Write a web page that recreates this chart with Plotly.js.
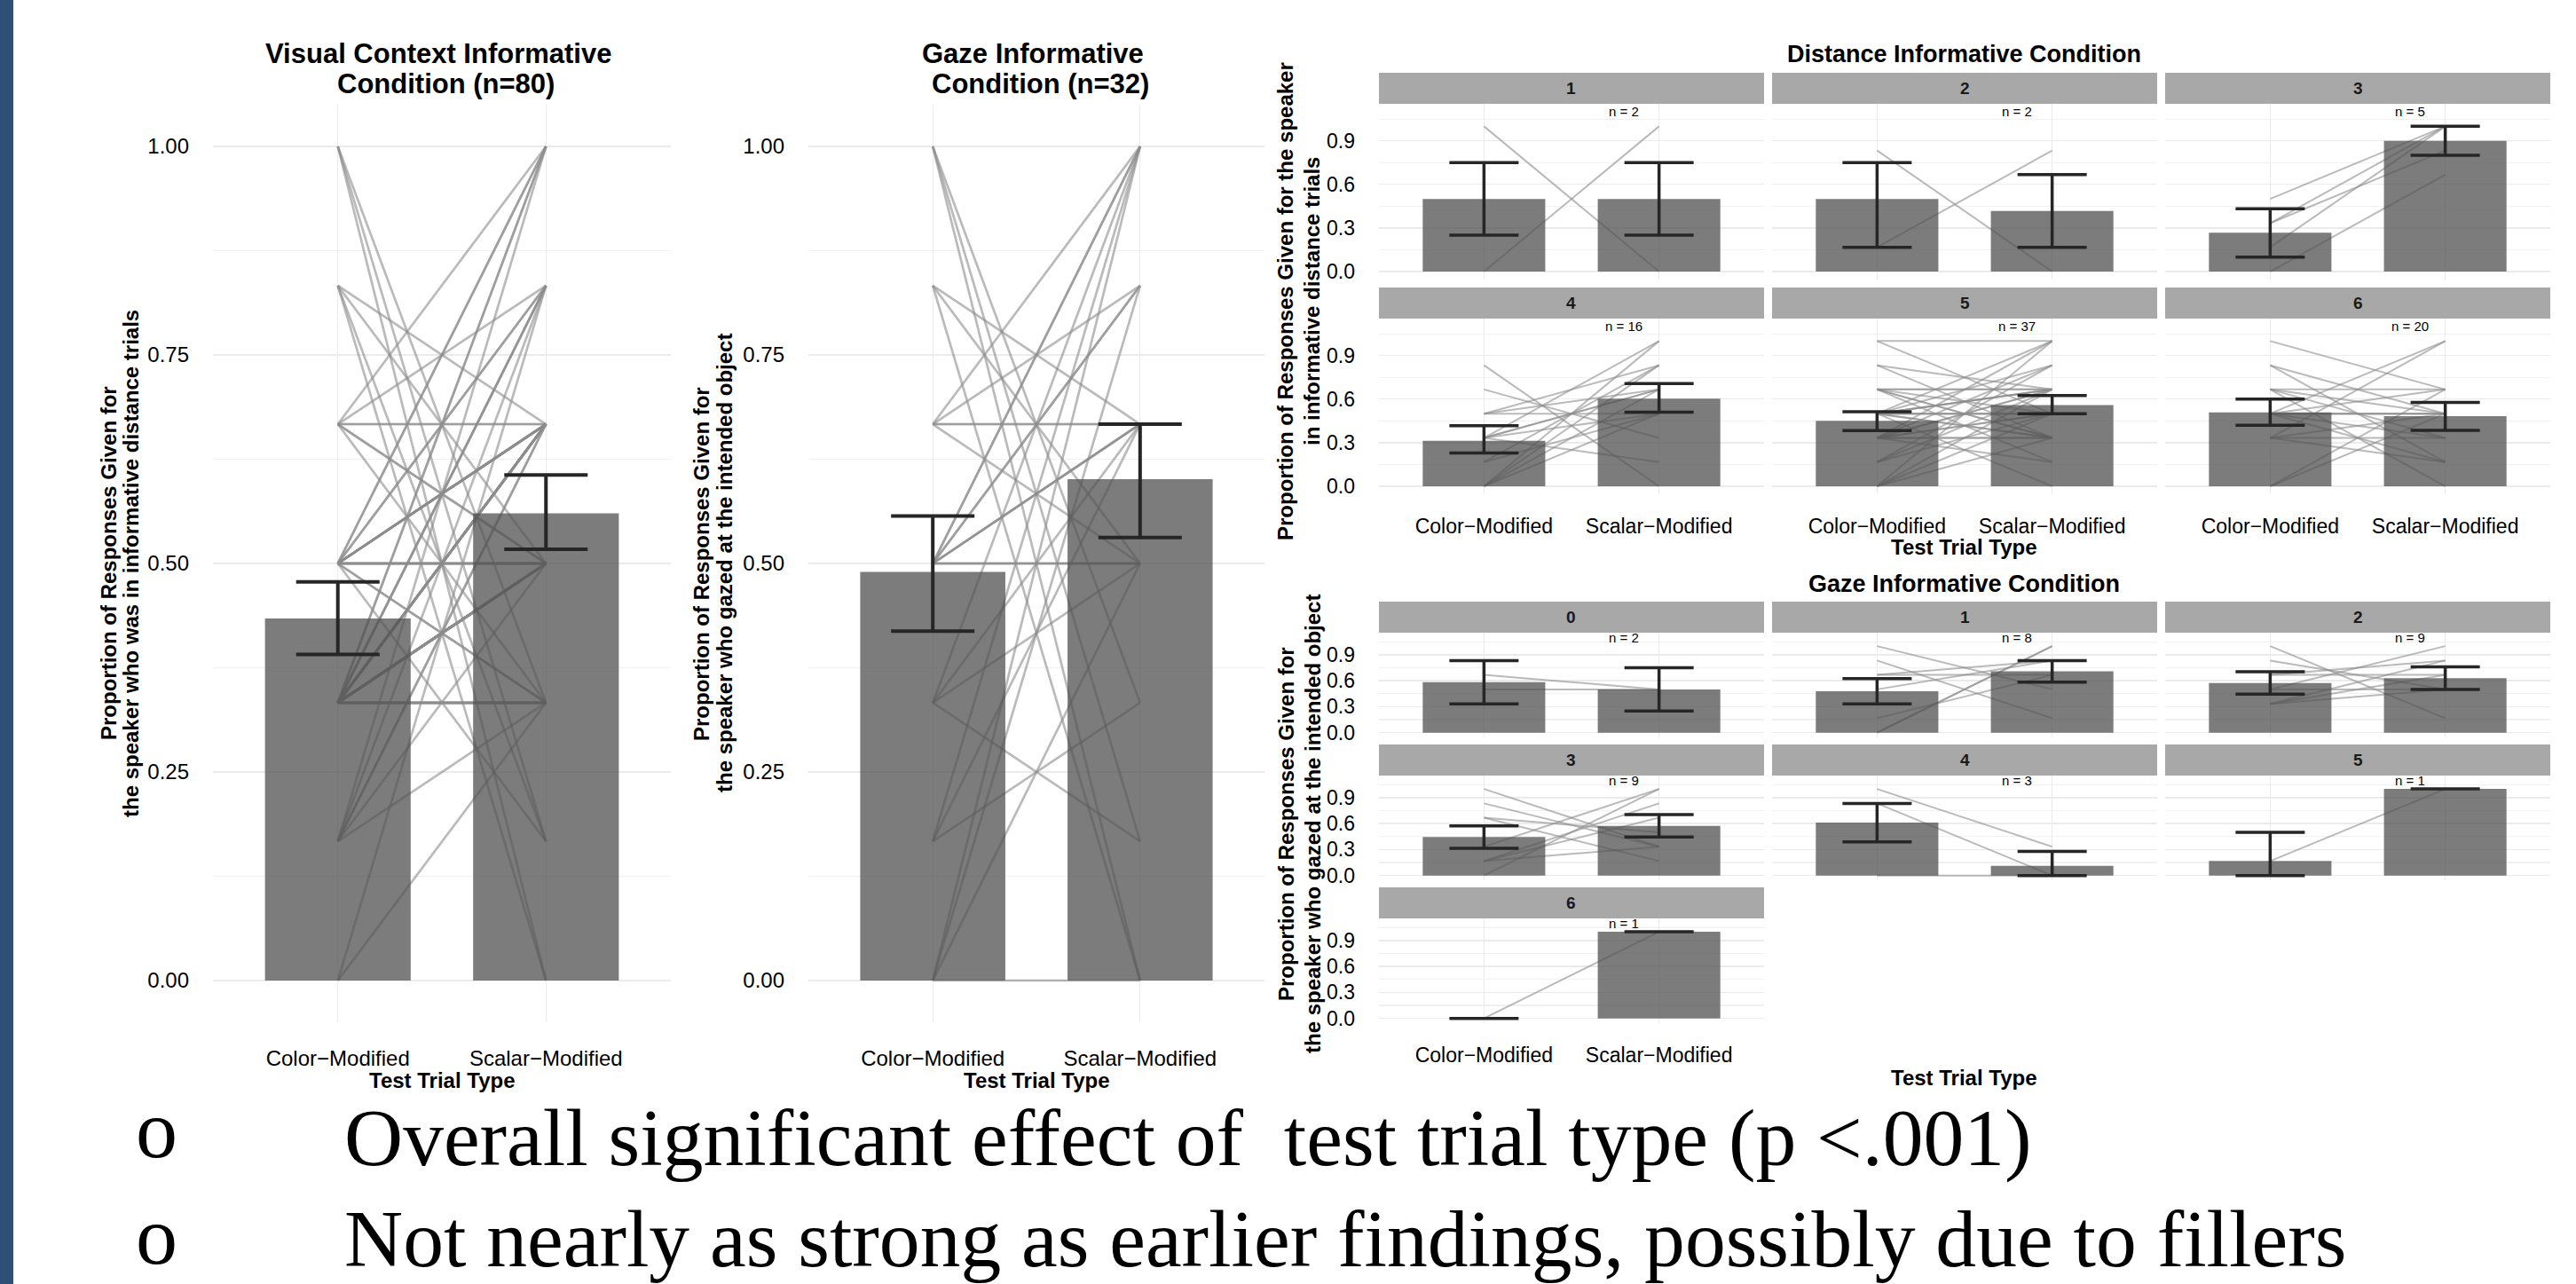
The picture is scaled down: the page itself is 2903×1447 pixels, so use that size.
<!DOCTYPE html>
<html><head><meta charset="utf-8">
<script src="https://cdn.plot.ly/plotly-3.0.1.min.js"></script>
<style>html,body{margin:0;padding:0;background:#fff;overflow:hidden}#chart{width:2903px;height:1447px}</style>
</head><body><div id="chart"></div>
<script>
// ---------------- DATA ----------------
const categories = ['Color\u2212Modified', 'Scalar\u2212Modified'];

// Visual Context Informative Condition (n=80)
const vcMeans = [0.434, 0.560];
const vcUpper = [0.478, 0.606];
const vcLower = [0.391, 0.517];
const vcColor = [
  1, 1, 1,
  0.833, 0.833, 0.833, 0.833,
  0.667, 0.667, 0.667, 0.667, 0.667, 0.667, 0.667,
  0.5, 0.5, 0.5, 0.5, 0.5, 0.5, 0.5, 0.5, 0.5, 0.5, 0.5, 0.5, 0.5, 0.5, 0.5, 0.5, 0.5, 0.5, 0.5, 0.5,
  0.333, 0.333, 0.333, 0.333, 0.333, 0.333, 0.333, 0.333, 0.333, 0.333, 0.333, 0.333, 0.333,
  0.333, 0.333, 0.333, 0.333, 0.333, 0.333, 0.333, 0.333, 0.333, 0.333, 0.333, 0.333, 0.333,
  0.333, 0.333, 0.333, 0.333, 0.333, 0.333, 0.333, 0.333, 0.333, 0.333, 0.333, 0.333,
  0.167, 0.167, 0.167, 0.167, 0.167, 0.167,
  0, 0
];
const vcScalar = [
  0.333, 0, 0.167,
  0, 0.167, 0.5, 0.667,
  0.5, 0.667, 0.333, 0.833, 0.667, 1, 0.5,
  0.5, 0.667, 0.667, 0.833, 1, 0.5, 0.167, 0.667, 0.5, 0.667, 0.833, 0.333, 0.5, 0.667, 1, 0.5, 0.333, 0.667, 0.5, 0.667,
  0.333, 0.5, 0.5, 0.5, 0.5, 0.833, 0.333, 0.5, 0.667, 0.5, 0.667, 1, 0.333,
  0.5, 0.667, 0.5, 0.833, 0.333, 0.5, 0.667, 0.5, 0.667, 0.333, 0.5, 1, 0.667,
  0.5, 0.333, 0.5, 0.667, 0.833, 0.5, 0.333, 0.667, 0.5, 0.667, 0.333, 0.5,
  0.667, 0.833, 0.5, 1, 0.333, 0.667,
  0.333, 0.833
];

// Gaze Informative Condition (n=32)
const gzMeans = [0.490, 0.601];
const gzUpper = [0.557, 0.667];
const gzLower = [0.419, 0.531];
const gzColor = [
  1, 1, 1,
  0.833, 0.833, 0.833,
  0.667, 0.667, 0.667, 0.667, 0.667,
  0.5, 0.5, 0.5, 0.5, 0.5, 0.5, 0.5, 0.5, 0.5, 0.5,
  0.333, 0.333, 0.333, 0.333,
  0.167, 0.167, 0.167,
  0, 0, 0, 0
];
const gzScalar = [
  0, 0.167, 0.333,
  0.5, 0, 0.667,
  0.833, 0.667, 0.667, 0.5, 1,
  0.667, 0.833, 1, 0.5, 0.5, 0.667, 1, 0.5, 0.833, 0.667,
  0.167, 0.5, 0.667, 1,
  0.667, 1, 0.333,
  0, 1, 0.833, 0.5
];

// Distance Informative Condition facets
const distLabels = ['1', '2', '3', '4', '5', '6'];
const distN = [2, 2, 5, 16, 37, 20];
const distMeanColor  = [0.5, 0.5, 0.267, 0.313, 0.451, 0.508];
const distMeanScalar = [0.5, 0.417, 0.9, 0.604, 0.559, 0.483];
const distUpperColor  = [0.75, 0.75, 0.433, 0.417, 0.514, 0.60];
const distUpperScalar = [0.75, 0.667, 1.0, 0.708, 0.625, 0.577];
const distLowerColor  = [0.25, 0.167, 0.1, 0.229, 0.383, 0.42];
const distLowerScalar = [0.25, 0.167, 0.8, 0.51, 0.50, 0.385];
const distColor = [
  [1, 0],
  [0.833, 0.167],
  [0.5, 0.333, 0.333, 0.167, 0],
  [0, 0, 0, 0, 0.167, 0.167, 0.333, 0.333, 0.333, 0.333, 0.333, 0.5, 0.5, 0.5, 0.667, 0.833],
  [0, 0, 0, 0, 0.167, 0.167, 0.167, 0.333, 0.333, 0.333, 0.333, 0.333, 0.333, 0.333, 0.333, 0.333,
   0.5, 0.5, 0.5, 0.5, 0.5, 0.5, 0.5, 0.5, 0.5, 0.5, 0.5, 0.667, 0.667, 0.667, 0.667, 0.667, 0.667, 0.833, 0.833, 1, 1],
  [0, 0, 0.333, 0.333, 0.333, 0.333, 0.5, 0.5, 0.5, 0.5, 0.5, 0.5, 0.5, 0.667, 0.667, 0.667, 0.667, 0.833, 0.833, 1]
];
const distScalar = [
  [0, 1],
  [0, 0.833],
  [1, 1, 0.833, 1, 0.667],
  [1, 0.667, 0.5, 0.833, 0.833, 0.5, 0.667, 0.5, 1, 0.167, 0.667, 0.833, 0.5, 0.667, 0.333, 0],
  [1, 0.667, 0.5, 0.333, 0.833, 0.667, 0.5, 1, 0.667, 0.667, 0.5, 0.333, 0.833, 0.5, 0.333, 0.167,
   0.667, 0.5, 0.333, 0.667, 1, 0.5, 0.333, 0.667, 0, 0.833, 0.5, 0.667, 0.333, 0.5, 0.667, 0.333, 0.167, 0.667, 0.333, 1, 0.5],
  [0.667, 0.5, 1, 0.5, 0.167, 0.333, 0.5, 0.667, 0.333, 0.5, 0.167, 1, 0.5, 0.5, 0.667, 0.333, 0, 0.167, 0.5, 0.667]
];

// Gaze Informative Condition facets
const gfLabels = ['0', '1', '2', '3', '4', '5', '6'];
const gfN = [2, 8, 9, 9, 3, 1, 1];
const gfMeanColor  = [0.583, 0.479, 0.574, 0.444, 0.611, 0.167, 0];
const gfMeanScalar = [0.5, 0.708, 0.63, 0.574, 0.111, 1, 1];
const gfUpperColor  = [0.833, 0.625, 0.704, 0.574, 0.833, 0.5, 0];
const gfUpperScalar = [0.75, 0.833, 0.759, 0.704, 0.278, 1, 1];
const gfLowerColor  = [0.333, 0.333, 0.444, 0.315, 0.389, 0, 0];
const gfLowerScalar = [0.25, 0.583, 0.5, 0.444, 0, 1, 1];
const gfColor = [
  [0.667, 0.5],
  [1, 0.833, 0.667, 0.667, 0.5, 0.167, 0, 0],
  [1, 0.833, 0.667, 0.667, 0.5, 0.5, 0.333, 0.333, 0.333],
  [1, 0.833, 0.667, 0.667, 0.333, 0.167, 0.167, 0.167, 0],
  [1, 0.833, 0],
  [0.167],
  [0]
];
const gfScalar = [
  [0.5, 0.5],
  [0.5, 0.167, 0.833, 0.667, 0.833, 0.667, 1, 1],
  [0.167, 0.5, 0.667, 0.833, 0.5, 1, 0.833, 0.667, 0.5],
  [0.333, 0.333, 0.5, 0.167, 1, 0.833, 0.667, 0.333, 1],
  [0.333, 0, 0],
  [1],
  [1]
];

// Slide text
const bigTitles = [['Visual Context Informative', 'Condition (n=80)'], ['Gaze Informative', 'Condition (n=32)']];
const bigYTitles = [['Proportion of Responses Given for', 'the speaker who was in informative distance trials'],
                    ['Proportion of Responses Given for', 'the speaker who gazed at the intended object']];
const distTitle = 'Distance Informative Condition';
const gfTitle = 'Gaze Informative Condition';
const distYTitle = ['Proportion of Responses Given for the speaker', 'in informative distance trials'];
const gfYTitle = ['Proportion of Responses Given for', 'the speaker who gazed at the intended object'];
const xTitle = 'Test Trial Type';
const bulletLines = ['Overall significant effect of\u00a0 test trial type (p <.001)',
                     'Not nearly as strong as earlier findings, possibly due to fillers'];

// ---------------- LAYOUT HELPERS ----------------
const W = 2903, H = 1447;
const PX = x => x / W;
const PY = y => 1 - y / H;
const SANS = 'Liberation Sans, Arial, sans-serif';
const SERIF = 'Liberation Serif, Times New Roman, serif';
const GRID = '#EBEBEB';
const LINE_COL = 'rgba(140,140,140,0.6)';
const BAR_COL = 'rgba(80,80,80,0.75)';
const ERR_COL = '#262626';

const traces = [];
const annotations = [];
const shapes = [];
const layout = {
  width: W, height: H,
  margin: {l: 0, r: 0, t: 0, b: 0},
  paper_bgcolor: '#fff', plot_bgcolor: '#fff',
  showlegend: false, hovermode: false
};

function txt(t, x, y, size, o) {
  o = o || {};
  annotations.push({
    text: t, x: PX(x), y: PY(y), xref: 'paper', yref: 'paper', showarrow: false,
    xanchor: o.xanchor || 'center', yanchor: 'middle', textangle: o.angle || 0,
    font: {family: o.family || SANS, size: size, color: o.color || '#000', weight: o.bold ? 700 : 400}
  });
}

const NPANELS = 15;
let k = 0;
function addPanel(p) {
  k += 1;
  const s = k === 1 ? '' : String(k);
  const xId = 'x' + s, yId = 'y' + s;
  const oy = String(k + NPANELS);
  const isBig = p.big;
  const yRange = isBig ? [-0.05, 1.05] : [-0.055, 1.155];
  layout['xaxis' + s] = {
    domain: [PX(p.x0), PX(p.x1)], anchor: yId, type: 'category', categoryorder: 'array',
    categoryarray: categories, range: [-0.6, 1.6], fixedrange: true,
    showgrid: true, gridcolor: GRID, gridwidth: 1.3, zeroline: false, showline: false, ticks: '',
    showticklabels: p.showX, ticklabelstandoff: isBig ? 24 : 20,
    tickfont: {family: SANS, size: isBig ? 24 : 23, color: '#000'}
  };
  layout['yaxis' + s] = {
    domain: [PY(p.y1), PY(p.y0)], anchor: xId, range: yRange, fixedrange: true,
    tickmode: 'linear', tick0: 0, dtick: isBig ? 0.25 : 0.3, tickformat: isBig ? '.2f' : '.1f',
    showgrid: true, gridcolor: GRID, gridwidth: 1.3, zeroline: false, showline: false, ticks: '',
    minor: {tick0: 0, dtick: isBig ? 0.125 : 0.15, showgrid: true, gridcolor: '#F1F1F1', gridwidth: 1.2, ticks: ''},
    showticklabels: p.showY, ticklabelstandoff: 26,
    tickfont: {family: SANS, size: isBig ? 24 : 23, color: '#000'}
  };
  layout['yaxis' + oy] = {
    overlaying: yId, anchor: xId, range: yRange, fixedrange: true,
    showgrid: false, zeroline: false, showline: false, showticklabels: false, ticks: ''
  };
  // individual participant lines (under the bars)
  for (let i = 0; i < p.c.length; i++) {
    traces.push({
      type: 'scatter', mode: 'lines', x: categories, y: [p.c[i], p.s[i]],
      xaxis: xId, yaxis: yId, hoverinfo: 'skip',
      line: {color: LINE_COL, width: isBig ? 2.7 : 2}
    });
  }
  // mean bars with error bars (overlay axis, drawn above the lines)
  traces.push({
    type: 'bar', x: categories, y: p.means, width: 0.7,
    xaxis: xId, yaxis: 'y' + oy, hoverinfo: 'skip',
    marker: {color: BAR_COL, line: {width: 0}},
    error_y: {
      type: 'data', symmetric: false,
      array: p.upper.map((u, i) => Math.max(0, u - p.means[i])),
      arrayminus: p.lower.map((l, i) => Math.max(0, p.means[i] - l)),
      color: ERR_COL, thickness: isBig ? 4 : 3.5, width: isBig ? 47 : 39
    }
  });
  if (p.n !== undefined) {
    annotations.push({
      text: 'n = ' + p.n, x: 0.8, y: 1.1, xref: xId, yref: yId, showarrow: false,
      xanchor: 'center', yanchor: 'middle', font: {family: SANS, size: 15, color: '#000'}
    });
  }
  if (p.strip) {
    shapes.push({type: 'rect', xref: 'paper', yref: 'paper', x0: PX(p.x0), x1: PX(p.x1),
      y0: PY(p.strip[1]), y1: PY(p.strip[0]), fillcolor: '#A8A8A8', line: {width: 0}});
    txt(p.label, (p.x0 + p.x1) / 2, (p.strip[0] + p.strip[1]) / 2, 19, {bold: true, color: '#1a1a1a'});
  }
}

// ---------------- BIG PANELS ----------------
addPanel({big: true, x0: 240, x1: 756, y0: 118, y1: 1152, showX: true, showY: true,
  c: vcColor, s: vcScalar, means: vcMeans, upper: vcUpper, lower: vcLower});
addPanel({big: true, x0: 911, x1: 1425, y0: 118, y1: 1152, showX: true, showY: true,
  c: gzColor, s: gzScalar, means: gzMeans, upper: gzUpper, lower: gzLower});

txt(bigTitles[0][0], 494, 61, 31, {bold: true});
txt(bigTitles[0][1], 502, 95, 31, {bold: true});
txt(bigTitles[1][0], 1164, 61, 31, {bold: true});
txt(bigTitles[1][1], 1172, 95, 31, {bold: true});
txt(bigYTitles[0][0], 122, 635, 24, {bold: true, angle: -90});
txt(bigYTitles[0][1], 147, 635, 24, {bold: true, angle: -90});
txt(bigYTitles[1][0], 790, 635, 24, {bold: true, angle: -90});
txt(bigYTitles[1][1], 816, 635, 24, {bold: true, angle: -90});
txt(xTitle, 498, 1217, 24, {bold: true});
txt(xTitle, 1168, 1217, 24, {bold: true});

// ---------------- FACETS ----------------
const cols = [[1554, 1988], [1997, 2431], [2440, 2874]];
const distRows = [{strip: [82, 117], panel: [117, 315]}, {strip: [324, 359], panel: [359, 557]}];
const gfRows = [{strip: [678, 713], panel: [713, 831]}, {strip: [839, 874], panel: [874, 992]},
                {strip: [1000, 1035], panel: [1035, 1153]}];

for (let i = 0; i < distLabels.length; i++) {
  const r = Math.floor(i / 3), c = i % 3;
  addPanel({big: false, x0: cols[c][0], x1: cols[c][1], y0: distRows[r].panel[0], y1: distRows[r].panel[1],
    strip: distRows[r].strip, label: distLabels[i], n: distN[i],
    showX: r === 1, showY: c === 0,
    c: distColor[i], s: distScalar[i],
    means: [distMeanColor[i], distMeanScalar[i]],
    upper: [distUpperColor[i], distUpperScalar[i]],
    lower: [distLowerColor[i], distLowerScalar[i]]});
}
for (let i = 0; i < gfLabels.length; i++) {
  const r = Math.floor(i / 3), c = i % 3;
  addPanel({big: false, x0: cols[c][0], x1: cols[c][1], y0: gfRows[r].panel[0], y1: gfRows[r].panel[1],
    strip: gfRows[r].strip, label: gfLabels[i], n: gfN[i],
    showX: i === 6, showY: c === 0,
    c: gfColor[i], s: gfScalar[i],
    means: [gfMeanColor[i], gfMeanScalar[i]],
    upper: [gfUpperColor[i], gfUpperScalar[i]],
    lower: [gfLowerColor[i], gfLowerScalar[i]]});
}

txt(distTitle, 2213, 61, 27, {bold: true});
txt(gfTitle, 2213, 658, 27, {bold: true});
txt(distYTitle[0], 1449, 340, 24, {bold: true, angle: -90});
txt(distYTitle[1], 1479, 340, 24, {bold: true, angle: -90});
txt(gfYTitle[0], 1449, 929, 24, {bold: true, angle: -90});
txt(gfYTitle[1], 1479, 929, 24, {bold: true, angle: -90});
txt(xTitle, 2213, 616, 24, {bold: true});
txt(xTitle, 2213, 1214, 24, {bold: true});

// ---------------- SLIDE DECOR ----------------
shapes.push({type: 'rect', xref: 'paper', yref: 'paper', x0: 0, x1: PX(15), y0: 0, y1: 1,
  fillcolor: '#2E5077', line: {width: 0}});
txt('o', 176, 1272, 94, {family: SERIF});
txt('o', 176, 1392, 94, {family: SERIF});
txt(bulletLines[0], 386, 1282, 91.6, {family: SERIF, xanchor: 'left'});
txt(bulletLines[1], 386, 1396, 91.6, {family: SERIF, xanchor: 'left'});

layout.annotations = annotations;
layout.shapes = shapes;

Plotly.newPlot('chart', traces, layout, {staticPlot: true, displayModeBar: false});
</script>
</body></html>
